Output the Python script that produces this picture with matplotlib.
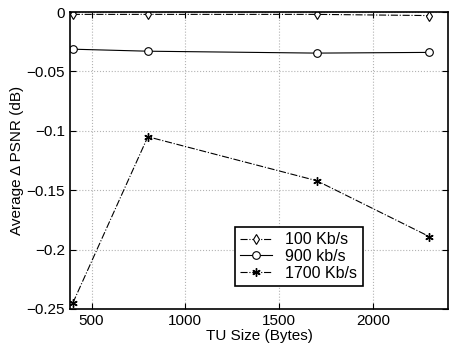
import numpy as np
import matplotlib
matplotlib.use('Agg')
import matplotlib.pyplot as plt

plt.rcParams['font.family'] = ['Liberation Sans', 'DejaVu Sans']

# TU sizes (bytes) and average delta PSNR per rate
tuSize = [400, 800, 1700, 2300]
psnr100 = [-0.002, -0.002, -0.002, -0.003]
psnr900 = [-0.0313, -0.033, -0.0346, -0.034]
psnr1700 = [-0.245, -0.105, -0.142, -0.189]
labels = ['100 Kb/s', '900 kb/s', '1700 Kb/s']

fig = plt.figure(figsize=(4.5, 3.47), dpi=100)
ax = fig.add_axes([70/450., 38/347., 378/450., 297/347.])

ax.plot(tuSize, psnr100, 'k-.', marker='d', mfc='white', ms=5.5, mew=0.8, lw=0.8, label=labels[0])
ax.plot(tuSize, psnr900, 'k-', marker='o', mfc='white', ms=5.5, mew=0.8, lw=0.8, label=labels[1])
ax.plot(tuSize, psnr1700, 'k-.', marker=(6, 2, 0), ms=6, mew=1.0, lw=0.8, label=labels[2])

ax.set_xlim(385, 2400)
ax.set_ylim(-0.25, 0)
ax.set_xticks([500, 1000, 1500, 2000])
ax.set_yticks([-0.25, -0.2, -0.15, -0.1, -0.05, 0])
ax.set_yticklabels(['\u22120.25', '\u22120.2', '\u22120.15', '\u22120.1', '\u22120.05', '0'])
ax.tick_params(direction='in', top=True, right=True, labelsize=11, length=4)
ax.grid(True, linestyle=':', color='0.7', lw=0.8)
for s in ax.spines.values():
    s.set_linewidth(1.2)

ax.set_xlabel('TU Size (Bytes)', fontsize=11, labelpad=1)
ax.set_ylabel('Average \u0394 PSNR (dB)', fontsize=11, labelpad=2)

leg = ax.legend(loc='lower right', bbox_to_anchor=(0.795, 0.05), fontsize=11.5,
                fancybox=False, edgecolor='black', framealpha=1,
                handlelength=2.0, borderpad=0.35, labelspacing=0.1)
leg.get_frame().set_linewidth(1.2)

fig.savefig('out.png', dpi=100)
